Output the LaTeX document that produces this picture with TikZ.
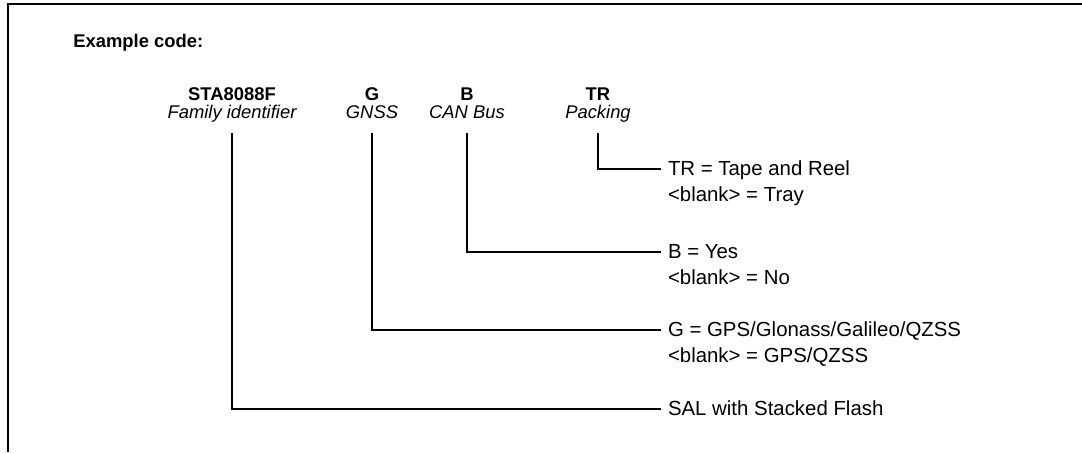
\documentclass[tikz,border=0pt]{standalone}
\usepackage{fontspec}
\setmainfont{Liberation Sans}
\begin{document}
\begin{tikzpicture}[x=0.5pt,y=-0.5pt,
  frame/.style={line width=1pt},
  conn/.style={line width=1pt},
  codebold/.style={font=\fontsize{9.2}{11}\selectfont\bfseries, inner sep=0pt, outer sep=0pt, anchor=base},
  codedesc/.style={font=\fontsize{9.2}{11}\selectfont\itshape, inner sep=0pt, outer sep=0pt, anchor=base, text height=6.6pt, text depth=2pt},
  optfirst/.style={font=\fontsize{10.2}{12}\selectfont, inner sep=0pt, outer sep=0pt, anchor=west, text height=7.5pt, text depth=1.5pt, xshift=3.5pt},
  optnext/.style={font=\fontsize{10.2}{12}\selectfont, inner sep=0pt, outer sep=0pt, anchor=base west}
]
\useasboundingbox (0,0) rectangle (1082,452);
\draw[frame] (8,452) -- (8,4) -- (1082,4);
\node[font=\fontsize{9.2}{11}\selectfont\bfseries, inner sep=0pt, anchor=base west] (title) at (73,47) {Example code:};

% code parts
\node[codebold] (sta) at (232,100) {STA8088F};
\node[codedesc] (fam) at (232,118) {Family identifier};
\node[codebold] (g) at (372,100) {G};
\node[codedesc] (gnss) at (372,118) {GNSS};
\node[codebold] (b) at (467,100) {B};
\node[codedesc] (can) at (467,118) {CAN Bus};
\node[codebold] (tr) at (598,100) {TR};
\node[codedesc] (pack) at (598,118) {Packing};

% options
\node[optfirst] (trA) at (661,169) {TR = Tape and Reel};
\node[optnext] (trB) at ([yshift=-13.2pt]trA.base west) {<blank> = Tray};
\node[optfirst] (bA) at (661,252) {B = Yes};
\node[optnext] (bB) at ([yshift=-13.2pt]bA.base west) {<blank> = No};
\node[optfirst] (gA) at (661,330) {G = GPS/Glonass/Galileo/QZSS};
\node[optnext] (gB) at ([yshift=-13.2pt]gA.base west) {<blank> = GPS/QZSS};
\node[optfirst] (sal) at (661,409) {SAL with Stacked Flash};

% connectors
\draw[conn] ([yshift=-5.5pt]pack.south) |- ([xshift=-3.5pt]trA.west);
\draw[conn] ([yshift=-5.5pt]can.south) |- ([xshift=-3.5pt]bA.west);
\draw[conn] ([yshift=-5.5pt]gnss.south) |- ([xshift=-3.5pt]gA.west);
\draw[conn] ([yshift=-5.5pt]fam.south) |- ([xshift=-3.5pt]sal.west);
\end{tikzpicture}
\end{document}
